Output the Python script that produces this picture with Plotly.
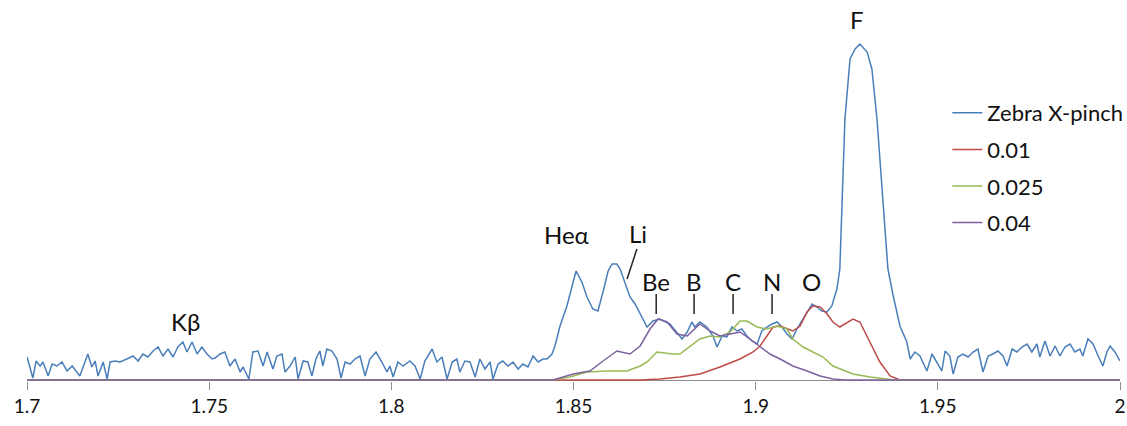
import plotly.graph_objects as go

# Wavelength (Angstrom) and intensity (arb. units)
zebra_x = [1.7000, 1.7016, 1.7025, 1.7036, 1.7044, 1.7058, 1.7069, 1.7082, 1.7096, 1.7110,
           1.7124, 1.7137, 1.7145, 1.7154, 1.7167, 1.7178, 1.7187, 1.7195, 1.7209, 1.7220,
           1.7228, 1.7242, 1.7255, 1.7274, 1.7291, 1.7305, 1.7318, 1.7332, 1.7346, 1.7360,
           1.7373, 1.7387, 1.7401, 1.7414, 1.7428, 1.7439, 1.7453, 1.7467, 1.7480, 1.7494,
           1.7508, 1.7516, 1.7530, 1.7543, 1.7557, 1.7571, 1.7585, 1.7593, 1.7609, 1.7620,
           1.7634, 1.7648, 1.7659, 1.7675, 1.7686, 1.7700, 1.7708, 1.7722, 1.7736, 1.7744,
           1.7758, 1.7771, 1.7782, 1.7793, 1.7804, 1.7812, 1.7823, 1.7837, 1.7851, 1.7862,
           1.7873, 1.7887, 1.7900, 1.7914, 1.7928, 1.7941, 1.7958, 1.7974, 1.7988, 1.7996,
           1.8005, 1.8018, 1.8032, 1.8051, 1.8065, 1.8079, 1.8092, 1.8112, 1.8125, 1.8139,
           1.8153, 1.8167, 1.8180, 1.8188, 1.8202, 1.8216, 1.8230, 1.8243, 1.8257, 1.8271,
           1.8279, 1.8293, 1.8306, 1.8320, 1.8334, 1.8348, 1.8361, 1.8375, 1.8389, 1.8403,
           1.8416, 1.8427, 1.8441, 1.8449, 1.8463, 1.8482, 1.8496, 1.8507, 1.8523, 1.8537,
           1.8553, 1.8567, 1.8581, 1.8595, 1.8606, 1.8619, 1.8628, 1.8641, 1.8655, 1.8669,
           1.8683, 1.8702, 1.8718, 1.8737, 1.8765, 1.8798, 1.8812, 1.8825, 1.8833, 1.8847,
           1.8866, 1.8883, 1.8894, 1.8908, 1.8921, 1.8935, 1.8949, 1.8962, 1.8976, 1.8990,
           1.9004, 1.9017, 1.9031, 1.9045, 1.9059, 1.9072, 1.9086, 1.9100, 1.9113, 1.9127,
           1.9141, 1.9155, 1.9168, 1.9182, 1.9196, 1.9209, 1.9223, 1.9231, 1.9245, 1.9259,
           1.9273, 1.9286, 1.9306, 1.9319, 1.9333, 1.9349, 1.9363, 1.9377, 1.9396, 1.9415,
           1.9424, 1.9437, 1.9451, 1.9470, 1.9484, 1.9492, 1.9511, 1.9520, 1.9533, 1.9542,
           1.9555, 1.9569, 1.9583, 1.9597, 1.9610, 1.9624, 1.9638, 1.9651, 1.9665, 1.9679,
           1.9690, 1.9704, 1.9717, 1.9731, 1.9745, 1.9758, 1.9772, 1.9780, 1.9794, 1.9808,
           1.9822, 1.9835, 1.9849, 1.9863, 1.9876, 1.9890, 1.9898, 1.9912, 1.9926, 1.9940,
           1.9953, 1.9964, 1.9973, 1.9986, 2.0000]
zebra_y = [23, 2, 19, 14, 18, 4, 16, 14, 18, 9,
           14, 8, 4, 13, 26, 13, 19, 4, 18, 1,
           18, 19, 18, 21, 24, 19, 26, 23, 29, 33,
           24, 31, 23, 33, 38, 28, 38, 26, 33, 26,
           21, 22, 26, 28, 14, 21, 8, 13, 1, 28,
           29, 14, 28, 11, 24, 26, 8, 14, 23, 1,
           19, 18, 4, 21, 29, 14, 31, 29, 21, 2,
           18, 16, 21, 24, 4, 21, 28, 18, 8, 14,
           3, 18, 14, 19, 14, 1, 19, 31, 18, 23,
           1, 18, 21, 8, 19, 18, 3, 21, 11, 18,
           1, 16, 19, 14, 18, 11, 16, 13, 24, 18,
           21, 21, 26, 34, 54, 74, 94, 109, 98, 83,
           71, 69, 88, 109, 116, 116, 111, 98, 83, 76,
           66, 53, 59, 61, 56, 41, 48, 58, 53, 58,
           53, 44, 33, 44, 43, 53, 49, 51, 44, 39,
           36, 49, 53, 56, 58, 53, 46, 41, 51, 59,
           68, 76, 73, 69, 68, 74, 91, 111, 261, 321,
           331, 336, 328, 311, 261, 178, 111, 85, 54, 38,
           21, 28, 24, 9, 26, 21, 9, 29, 24, 6,
           23, 26, 23, 28, 31, 8, 24, 26, 29, 24,
           14, 31, 28, 33, 36, 28, 36, 23, 39, 24,
           34, 24, 33, 36, 28, 31, 24, 41, 36, 24,
           14, 28, 34, 28, 19]

red_x = [1.7000, 1.8683, 1.8737, 1.8792, 1.8847, 1.8902, 1.8957, 1.8993, 1.9012, 1.9031,
         1.9048, 1.9067, 1.9086, 1.9102, 1.9122, 1.9141, 1.9157, 1.9177, 1.9196, 1.9212,
         1.9231, 1.9245, 1.9267, 1.9286, 1.9314, 1.9341, 1.9369, 1.9396, 2.0000]
red_y = [0, 0, 1, 3, 6, 13, 21, 28, 34, 44,
         53, 54, 51, 49, 54, 68, 74, 73, 66, 58,
         53, 56, 61, 58, 38, 18, 4, 0, 0]

green_x = [1.7000, 1.8441, 1.8490, 1.8537, 1.8592, 1.8647, 1.8683, 1.8702, 1.8729, 1.8773,
           1.8792, 1.8820, 1.8847, 1.8875, 1.8902, 1.8930, 1.8957, 1.8976, 1.9004, 1.9031,
           1.9059, 1.9086, 1.9102, 1.9130, 1.9157, 1.9185, 1.9212, 1.9231, 1.9267, 1.9314,
           1.9360, 1.9382, 2.0000]
green_y = [0, 0, 3, 8, 9, 9, 14, 18, 28, 26,
           26, 34, 41, 44, 43, 48, 59, 59, 53, 51,
           54, 51, 41, 33, 28, 23, 14, 11, 6, 3,
           1, 0, 0]

purple_x = [1.7000, 1.8444, 1.8499, 1.8545, 1.8581, 1.8619, 1.8655, 1.8683, 1.8710, 1.8732,
            1.8757, 1.8784, 1.8812, 1.8847, 1.8875, 1.8902, 1.8930, 1.8957, 1.8984, 1.9012,
            1.9039, 1.9067, 1.9102, 1.9141, 1.9177, 1.9212, 1.9245, 2.0000]
purple_y = [0, 0, 6, 9, 19, 29, 26, 34, 51, 61,
            58, 46, 44, 56, 49, 44, 46, 48, 41, 33,
            26, 21, 14, 9, 4, 1, 0, 0]

series_names = ["Zebra X-pinch", "0.01", "0.025", "0.04"]
series_colors = ["#4A7EBB", "#BE4B48", "#98B954", "#7D60A0"]

tick_vals = [1.7, 1.75, 1.8, 1.85, 1.9, 1.95, 2.0]
tick_text = ["1.7", "1.75", "1.8", "1.85", "1.9", "1.95", "2"]

# line labels: text, x position, label height
line_labels = ["Kβ", "Heα", "Li", "Be", "B", "C", "N", "O", "F"]
line_label_x = [1.7434, 1.8482, 1.8677, 1.8727, 1.8831, 1.8938, 1.9045, 1.9152, 1.9278]
line_label_y = [59, 146, 147, 99, 99, 99, 99, 99, 361]
marker_lines = ["Be", "B", "C", "N"]

FONT = "Lato, 'Open Sans', sans-serif"

fig = go.Figure()
all_x = [zebra_x, red_x, green_x, purple_x]
all_y = [zebra_y, red_y, green_y, purple_y]
for i, name in enumerate(series_names):
    fig.add_trace(go.Scatter(
        x=all_x[i], y=all_y[i], mode="lines", name=name,
        legendgroup=name,
        line=dict(color=series_colors[i], width=1.5),
    ))

for t, x, y in zip(line_labels, line_label_x, line_label_y):
    fig.add_annotation(x=x, y=y, xref="x", yref="y", text=t, showarrow=False,
                       font=dict(family=FONT, size=24, color="#111111"))

for t, x in zip(line_labels, line_label_x):
    if t in marker_lines:
        fig.add_shape(type="line", xref="x", yref="y", x0=x, x1=x, y0=66, y1=86,
                      line=dict(color="#222222", width=1.5))
# Li pointer
li_x = line_label_x[line_labels.index("Li")]
fig.add_shape(type="line", xref="x", yref="y", x0=li_x - 0.0003, x1=li_x - 0.0030,
              y0=131, y1=101, line=dict(color="#222222", width=1.5))

fig.update_layout(
    width=1127, height=426,
    margin=dict(l=27, r=7, t=10, b=45, autoexpand=False),
    paper_bgcolor="white", plot_bgcolor="white",
    font=dict(family=FONT, color="#111111"),
    showlegend=True,
    legend=dict(x=0.842, y=0.779, xanchor="left", yanchor="top",
                font=dict(family=FONT, size=22, color="#111111"),
                traceorder="grouped", tracegroupgap=5,
                bgcolor="rgba(0,0,0,0)"),
    xaxis=dict(range=[1.7, 2.0], tickvals=tick_vals, ticktext=tick_text,
               showgrid=False, zeroline=False, showline=False, automargin=False,
               ticks="outside", ticklen=8, tickcolor="#8C8C8C", tickwidth=1,
               tickfont=dict(family=FONT, size=19, color="#111111")),
    yaxis=dict(range=[-1, 370], visible=True, showticklabels=False, showgrid=False,
               zeroline=True, zerolinecolor="#8C8C8C", zerolinewidth=1,
               showline=False, ticks="", automargin=False),
)

fig.write_html("out.html", config={"displayModeBar": False},
               post_script="document.body.style.margin='0';")
